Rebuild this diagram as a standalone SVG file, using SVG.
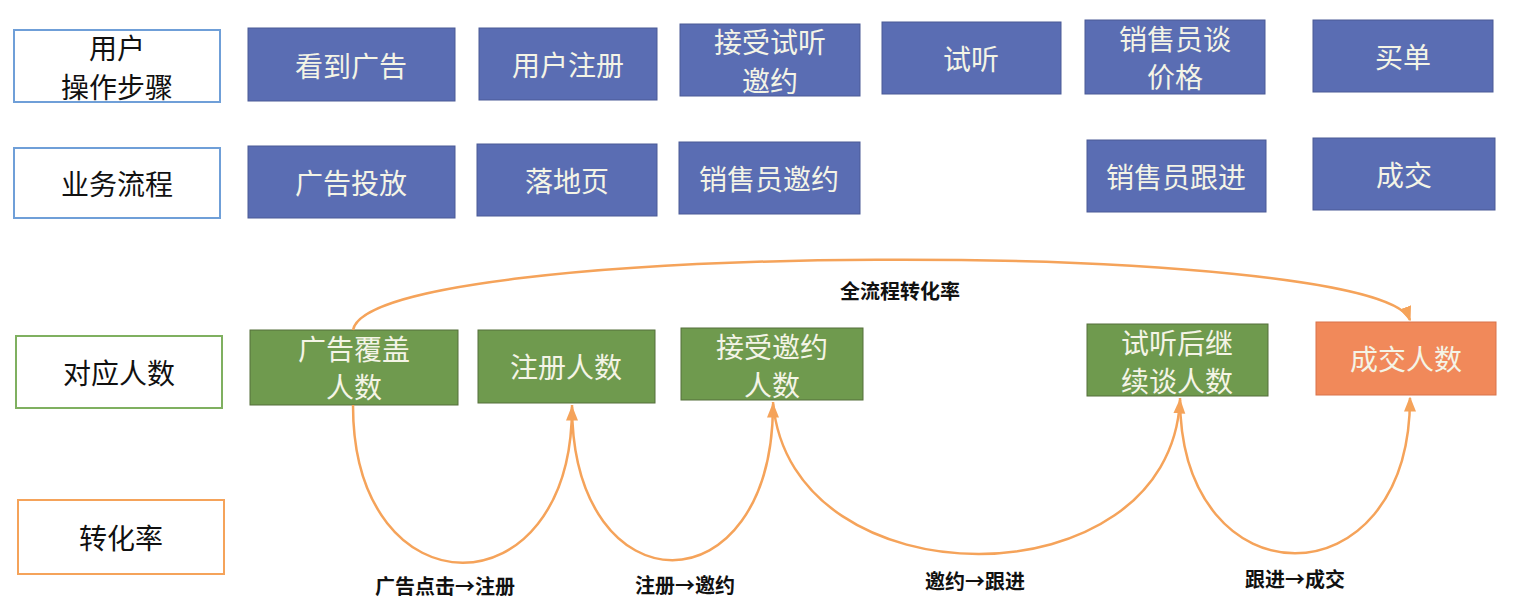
<svg xmlns="http://www.w3.org/2000/svg" width="1515" height="611" viewBox="0 0 1515 611">
<style>
text{font-family:"Noto Sans CJK SC","Liberation Sans",sans-serif;text-anchor:middle;dominant-baseline:central}
.b rect{fill:#5a6db3;stroke:#4a5a96;stroke-width:1}
.g rect{fill:#6f9a4e;stroke:#556f3a;stroke-width:1}
.o rect{fill:#f1895a;stroke:#d9734a;stroke-width:1}
.b text,.g text,.o text{fill:#f4f4e6;font-size:28px}
.l rect{fill:#fff;stroke-width:2}
.l text{fill:#111;font-size:28px}
.c path{fill:none;stroke:#f5a35a;stroke-width:2.5}
.cl{fill:#111;font-size:20px;font-weight:600}
</style>
<defs><marker id="a" viewBox="0 0 10 10" refX="9" refY="5" markerWidth="6" markerHeight="6" orient="auto"><path d="M0,1 L10,5 L0,9 z" fill="#f5a35a"/></marker></defs>
<rect width="1515" height="611" fill="#fff"/>
<g id="l1" class="l"><rect x="14" y="30" width="206" height="72" stroke="#6f9fd8"/><text x="117" y="47" font-size="26">用户</text><text x="117" y="86" font-size="26">操作步骤</text></g>
<g id="l2" class="l"><rect x="14" y="148" width="206" height="70" stroke="#6f9fd8"/><text x="117" y="183">业务流程</text></g>
<g id="l3" class="l"><rect x="16" y="336" width="206" height="72" stroke="#7fb060"/><text x="119" y="372">对应人数</text></g>
<g id="l4" class="l"><rect x="18" y="500" width="206" height="74" stroke="#f5a35a"/><text x="121" y="537">转化率</text></g>
<g id="n1" class="b"><rect x="248" y="28" width="207" height="73"/><text x="351" y="65">看到广告</text></g>
<g id="n2" class="b"><rect x="479" y="28" width="178" height="72"/><text x="568" y="64">用户注册</text></g>
<g id="n3" class="b"><rect x="680" y="24" width="180" height="72"/><text x="770" y="41" font-size="26">接受试听</text><text x="770" y="80" font-size="26">邀约</text></g>
<g id="n4" class="b"><rect x="882" y="22" width="179" height="72"/><text x="971" y="58">试听</text></g>
<g id="n5" class="b"><rect x="1085" y="20" width="180" height="74"/><text x="1175" y="38" font-size="27">销售员谈</text><text x="1175" y="76" font-size="27">价格</text></g>
<g id="n6" class="b"><rect x="1313" y="20" width="180" height="72"/><text x="1403" y="56">买单</text></g>
<g id="n7" class="b"><rect x="248" y="146" width="207" height="72"/><text x="351" y="182">广告投放</text></g>
<g id="n8" class="b"><rect x="477" y="144" width="180" height="72"/><text x="567" y="180">落地页</text></g>
<g id="n9" class="b"><rect x="679" y="142" width="181" height="72"/><text x="769" y="178">销售员邀约</text></g>
<g id="n10" class="b"><rect x="1087" y="140" width="179" height="72"/><text x="1176" y="176">销售员跟进</text></g>
<g id="n11" class="b"><rect x="1313" y="138" width="182" height="72"/><text x="1404" y="174">成交</text></g>
<g id="n12" class="g"><rect x="250" y="330" width="208" height="75"/><text x="354" y="348" font-size="27">广告覆盖</text><text x="354" y="386" font-size="27">人数</text></g>
<g id="n13" class="g"><rect x="478" y="330" width="177" height="73"/><text x="566" y="366">注册人数</text></g>
<g id="n14" class="g"><rect x="681" y="328" width="182" height="72"/><text x="772" y="346" font-size="27">接受邀约</text><text x="772" y="384" font-size="27">人数</text></g>
<g id="n15" class="g"><rect x="1087" y="324" width="181" height="72"/><text x="1177" y="342" font-size="27">试听后继</text><text x="1177" y="380" font-size="27">续谈人数</text></g>
<g id="n16" class="o"><rect x="1316" y="322" width="180" height="73"/><text x="1406" y="358">成交人数</text></g>
<g id="connectors" class="c">
<path d="M353,405 C353,615 572,615 572,407" marker-end="url(#a)"/>
<path d="M572,405 C572,612 773,612 773,404" marker-end="url(#a)"/>
<path d="M773,402 C790,605 1170,605 1180,400" marker-end="url(#a)"/>
<path d="M1180,398 C1180,605 1410,605 1410,398" marker-end="url(#a)"/>
<path d="M353,330 C370,238 1380,238 1410,320" marker-end="url(#a)"/>
</g>
<text class="cl" x="900" y="290">全流程转化率</text>
<text class="cl" x="445" y="585">广告点击→注册</text>
<text class="cl" x="685" y="584">注册→邀约</text>
<text class="cl" x="975" y="580">邀约→跟进</text>
<text class="cl" x="1295" y="578">跟进→成交</text>
</svg>
